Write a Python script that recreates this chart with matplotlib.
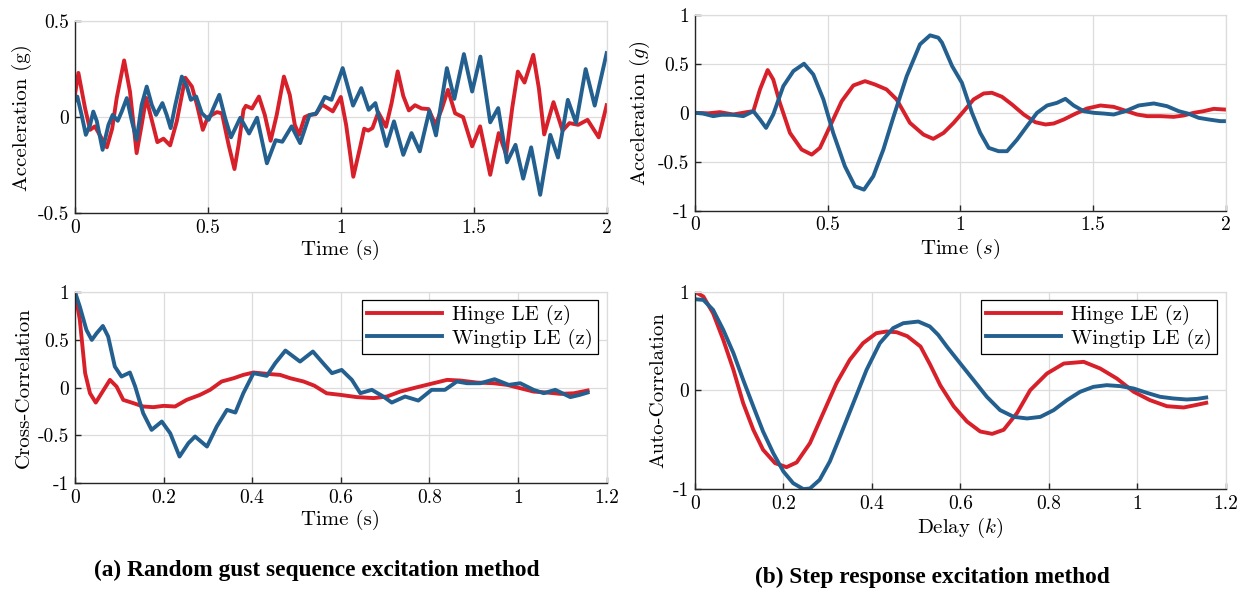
import numpy as np
import matplotlib
matplotlib.use("Agg")
import matplotlib.pyplot as plt

plt.rcParams['font.family'] = 'cmr10'
plt.rcParams['mathtext.fontset'] = 'cm'
plt.rcParams['axes.unicode_minus'] = False

RED = '#D8202A'
BLUE = '#24608F'

# (a) random gust: acceleration time history
gust_t_red = [0, .013, .038, .057, .075, .10, .12, .14, .157, .185, .207, .232, .251, .268, .31, .333, .358, .383,
              .415, .44, .459, .481, .50, .534, .553, .578, .60, .616, .634, .643, .666, .692, .714, .736, .759, .786,
              .808, .827, .843, .864, .883, .905, .93, .97, 1.0, 1.02, 1.047, 1.072, 1.088, 1.103, 1.119, 1.141, 1.17,
              1.191, 1.214, 1.235, 1.256, 1.279, 1.304, 1.33, 1.356, 1.379, 1.403, 1.43, 1.46, 1.494, 1.524, 1.562,
              1.594, 1.622, 1.645, 1.666, 1.691, 1.724, 1.745, 1.765, 1.8, 1.834, 1.86, 1.893, 1.928, 1.97, 2.0]
gust_a_red = [.116, .23, .047, -.066, -.048, -.109, -.157, -.06, .099, .295, .133, -.187, -.04, .10, -.13, -.112,
              -.147, -.022, .205, .159, .064, -.066, .0, .026, .02, -.144, -.27, -.14, .038, .059, .045, .107, .012,
              -.123, .012, .211, .116, -.04, -.092, .0, .012, .015, .065, .03, .105, -.04, -.31, -.16, -.06, -.07,
              -.057, .025, -.05, .073, .238, .11, .035, .062, .045, .042, -.04, .04, .142, .02, .0, -.152, -.048,
              -.3, -.083, -.195, .05, .237, .18, .324, .15, -.09, .078, -.07, -.031, -.04, -.014, -.105, .062]
gust_t_blue = [0, .009, .025, .041, .057, .069, .082, .104, .126, .142, .161, .176, .195, .214, .232, .251, .27,
               .289, .305, .329, .345, .36, .377, .402, .421, .436, .456, .477, .503, .521, .543, .565, .587, .622,
               .655, .685, .722, .755, .78, .815, .847, .882, .908, .94, .965, 1.007, 1.046, 1.077, 1.105, 1.13,
               1.172, 1.2, 1.235, 1.266, 1.297, 1.333, 1.358, 1.399, 1.427, 1.463, 1.494, 1.525, 1.562, 1.592,
               1.625, 1.657, 1.686, 1.716, 1.75, 1.788, 1.817, 1.854, 1.885, 1.921, 1.955, 2.0]
gust_a_blue = [.085, .107, .012, -.092, -.04, .029, -.02, -.17, -.04, .012, -.019, .029, .099, -.02, -.118, .064,
               .159, .064, .012, .073, .012, -.057, .06, .211, .159, .09, .107, .021, -.014, .047, .116, -.005,
               -.105, -.003, -.085, -.003, -.24, -.12, -.128, -.048, -.135, .01, .02, .105, .09, .255, .06, .151,
               .038, .073, -.15, -.022, -.196, -.083, -.178, .033, -.095, .255, .095, .328, .133, .315, -.027, .047,
               -.235, -.144, -.32, -.157, -.404, -.092, -.21, .09, -.031, .25, .06, .333]

# (a) cross-correlation
xc_t_red = [0, .011, .023, .034, .047, .06, .079, .094, .109, .132, .154, .177, .2, .226, .252, .282, .305, .331,
            .358, .38, .403, .433, .463, .486, .516, .54, .568, .6, .636, .674, .704, .734, .772, .809, .84, .87,
            .907, .945, .975, 1.005, 1.035, 1.065, 1.096, 1.126, 1.157]
xc_red = [1.0, .706, .15, -.06, -.157, -.06, .08, .01, -.129, -.163, -.198, -.205, -.191, -.198, -.129, -.077,
          -.024, .063, .097, .132, .157, .143, .132, .097, .063, .02, -.06, -.077, -.1, -.11, -.094, -.042, .003,
          .045, .08, .073, .052, .045, .028, -.007, -.042, -.052, -.066, -.06, -.031]
xc_t_blue = [0, .011, .026, .038, .049, .063, .075, .09, .105, .124, .136, .154, .173, .196, .215, .236, .256, .271,
             .298, .32, .343, .362, .38, .403, .433, .452, .475, .508, .537, .56, .58, .602, .625, .644, .67, .696,
             .715, .745, .775, .805, .835, .862, .885, .915, .947, .979, 1.005, 1.035, 1.058, 1.084, 1.118, 1.139,
             1.157]
xc_blue = [1.0, .845, .6, .497, .567, .643, .532, .219, .115, .157, .01, -.268, -.442, -.355, -.477, -.72, -.581,
           -.511, -.616, -.407, -.233, -.261, -.059, .15, .122, .254, .386, .271, .376, .254, .15, .184, .08, -.059,
           -.024, -.094, -.157, -.094, -.136, -.024, -.024, .063, .045, .045, .087, .028, .045, -.024, -.059, -.024,
           -.1, -.077, -.052]

# (b) step response: acceleration time history
step_t_red = [0, .05, .094, .144, .195, .22, .245, .274, .295, .32, .358, .402, .44, .471, .509, .553, .597, .641,
              .678, .722, .76, .81, .861, .898, .937, .975, 1.013, 1.05, 1.088, 1.119, 1.157, 1.195, 1.239, 1.283,
              1.321, 1.352, 1.39, 1.433, 1.477, 1.528, 1.578, 1.628, 1.666, 1.704, 1.754, 1.804, 1.842, 1.879,
              1.917, 1.955, 1.995]
step_a_red = [0, -.005, .007, -.017, .007, .017, .239, .437, .341, .102, -.205, -.375, -.427, -.358, -.137, .119,
              .28, .324, .29, .239, .137, -.102, -.222, -.266, -.205, -.102, .017, .137, .198, .205, .164, .085,
              -.017, -.096, -.119, -.109, -.068, -.01, .044, .075, .061, .017, -.017, -.034, -.034, -.041, -.027, 0,
              .017, .041, .034]
step_t_blue = [0, .03, .069, .1, .144, .182, .22, .245, .268, .295, .333, .371, .411, .446, .484, .521, .565, .603,
               .637, .672, .71, .747, .798, .848, .886, .917, .931, .969, 1.006, 1.044, 1.075, 1.107, 1.144, 1.176,
               1.214, 1.251, 1.289, 1.327, 1.364, 1.396, 1.427, 1.465, 1.503, 1.54, 1.578, 1.622, 1.672, 1.729,
               1.779, 1.823, 1.861, 1.898, 1.936, 1.98, 2.0]
step_a_blue = [0, -.007, -.034, -.02, -.02, -.034, .017, -.068, -.154, -.017, .273, .427, .502, .392, .137, -.205,
               -.546, -.751, -.785, -.648, -.375, -.051, .375, .7, .792, .768, .717, .478, .307, 0, -.205, -.358,
               -.392, -.392, -.273, -.137, 0, .075, .102, .143, .075, .017, 0, -.007, -.017, .017, .075, .096, .068,
               .017, -.01, -.051, -.068, -.085, -.085]

# (b) auto-correlation
ac_k_red = [0, .019, .041, .064, .087, .109, .132, .154, .181, .207, .23, .26, .29, .32, .35, .38, .41, .433, .456,
            .48, .51, .532, .555, .585, .615, .645, .672, .698, .728, .758, .796, .834, .879, .916, .954, .992,
            1.029, 1.067, 1.105, 1.135, 1.156]
ac_red = [1.0, .951, .782, .513, .209, -.128, -.398, -.6, -.735, -.776, -.728, -.533, -.229, .074, .31, .479, .58,
          .597, .59, .55, .445, .26, .05, -.16, -.314, -.415, -.439, -.398, -.23, .003, .172, .273, .29, .223, .121,
          -.013, -.098, -.159, -.172, -.145, -.125]
ac_k_blue = [0, .019, .041, .064, .087, .109, .132, .154, .177, .2, .222, .245, .26, .282, .305, .328, .358, .388,
             .418, .448, .471, .505, .531, .55, .57, .6, .63, .66, .69, .721, .751, .781, .811, .841, .871, .901,
             .931, .962, .992, 1.022, 1.052, 1.082, 1.112, 1.135, 1.156]
ac_blue = [.924, .917, .816, .614, .378, .108, -.162, -.415, -.634, -.82, -.938, -.998, -.992, -.904, -.718, -.465,
           -.128, .209, .479, .631, .681, .698, .648, .563, .442, .273, .105, -.064, -.199, -.267, -.283, -.267,
           -.199, -.098, -.013, .037, .054, .044, .02, -.024, -.064, -.081, -.091, -.085, -.071]

labels = ['Hinge LE (z)', 'Wingtip LE (z)']

fig = plt.figure(figsize=(12.47, 5.9), dpi=100)
ax_tl = fig.add_axes([0.0601, 0.6385, 0.4264, 0.3259])
ax_bl = fig.add_axes([0.0601, 0.1808, 0.4264, 0.3247])
ax_tr = fig.add_axes([0.5573, 0.6429, 0.4256, 0.3317])
ax_br = fig.add_axes([0.5573, 0.1707, 0.4256, 0.3349])

fs = 14
lw = 2.8


def style(ax, xt, xtl, yt, ytl, xlim, ylim):
    ax.set_xlim(*xlim)
    ax.set_ylim(*ylim)
    ax.set_xticks(xt)
    ax.set_xticklabels(xtl, fontsize=fs)
    ax.set_yticks(yt)
    ax.set_yticklabels(ytl, fontsize=fs)
    ax.grid(True, color='#dcdcdc', linewidth=0.9)
    ax.set_axisbelow(True)
    for s in ['top', 'right']:
        ax.spines[s].set_color('#dcdcdc')
        ax.spines[s].set_linewidth(0.9)
    for s in ['left', 'bottom']:
        ax.spines[s].set_color('#262626')
        ax.spines[s].set_linewidth(1.0)
    ax.tick_params(direction='in', length=4, width=1.0, color='#262626', top=False, right=False, pad=4)


ax_tl.plot(gust_t_red, gust_a_red, color=RED, lw=lw, solid_joinstyle='round')
ax_tl.plot(gust_t_blue, gust_a_blue, color=BLUE, lw=lw, solid_joinstyle='round')
style(ax_tl, [0, .5, 1, 1.5, 2], ['0', '0.5', '1', '1.5', '2'], [-.5, 0, .5], ['-0.5', '0', '0.5'], (0, 2), (-.5, .5))
ax_tl.set_xlabel('Time (s)', fontsize=15, labelpad=2)
ax_tl.set_ylabel('Acceleration (g)', fontsize=15)

ax_bl.plot(xc_t_red, xc_red, color=RED, lw=lw, solid_joinstyle='round', label=labels[0])
ax_bl.plot(xc_t_blue, xc_blue, color=BLUE, lw=lw, solid_joinstyle='round', label=labels[1])
xt = [0, .2, .4, .6, .8, 1, 1.2]
xtl = ['0', '0.2', '0.4', '0.6', '0.8', '1', '1.2']
style(ax_bl, xt, xtl, [-1, -.5, 0, .5, 1], ['-1', '-0.5', '0', '0.5', '1'], (0, 1.2), (-1, 1))
ax_bl.set_xlabel('Time (s)', fontsize=15, labelpad=2)
ax_bl.set_ylabel('Cross-Correlation', fontsize=15)

ax_tr.plot(step_t_red, step_a_red, color=RED, lw=lw, solid_joinstyle='round')
ax_tr.plot(step_t_blue, step_a_blue, color=BLUE, lw=lw, solid_joinstyle='round')
style(ax_tr, [0, .5, 1, 1.5, 2], ['0', '0.5', '1', '1.5', '2'], [-1, -.5, 0, .5, 1],
      ['-1', '-0.5', '0', '0.5', '1'], (0, 2), (-1, 1))
ax_tr.set_xlabel(r'Time ($s$)', fontsize=15, labelpad=2)
ax_tr.set_ylabel(r'Acceleration ($g$)', fontsize=15)

ax_br.plot(ac_k_red, ac_red, color=RED, lw=lw, solid_joinstyle='round', label=labels[0])
ax_br.plot(ac_k_blue, ac_blue, color=BLUE, lw=lw, solid_joinstyle='round', label=labels[1])
style(ax_br, xt, xtl, [-1, 0, 1], ['-1', '0', '1'], (0, 1.2), (-1, 1))
ax_br.set_xlabel(r'Delay ($k$)', fontsize=15, labelpad=2)
ax_br.set_ylabel('Auto-Correlation', fontsize=15)

for ax in [ax_bl, ax_br]:
    leg = ax.legend(loc='upper right', fontsize=15, fancybox=False, framealpha=1, edgecolor='black',
                    handlelength=3.6, borderaxespad=0.4, borderpad=0.25, labelspacing=0.15, handletextpad=0.5)
    leg.get_frame().set_linewidth(0.9)

fig.text(0.254, 0.033, '(a) Random gust sequence excitation method', family='Liberation Serif',
         weight='bold', fontsize=16.8, ha='center', va='center')
fig.text(0.748, 0.021, '(b) Step response excitation method', family='Liberation Serif',
         weight='bold', fontsize=16.8, ha='center', va='center')

fig.savefig('out.png', dpi=100)
